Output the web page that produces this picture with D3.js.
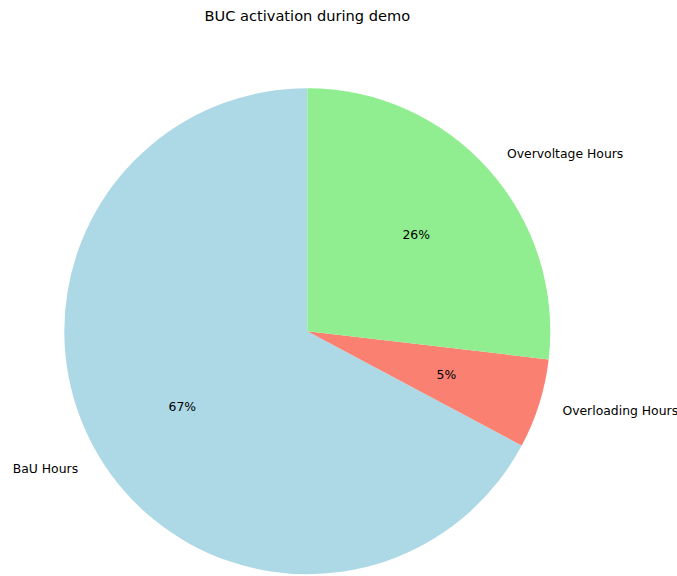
<!DOCTYPE html>
<html>
<head>
<meta charset="utf-8">
<script src="https://cdn.jsdelivr.net/npm/d3@7"></script>
<style>
  body { margin: 0; background: #fff; }
  svg { display: block; font-family: "DejaVu Sans", sans-serif; }
</style>
</head>
<body>
<div id="chart"></div>
<script>
const labels = ["BaU Hours", "Overloading Hours", "Overvoltage Hours"];
const hours = [67.2, 5.95, 26.85];
const colors = ["#add8e6", "#fa8072", "#90ee90"];

const width = 677;
const height = 576;
const cx = 307.3;
const cy = 331.2;
const radius = 243;

const svg = d3
  .select("#chart")
  .append("svg")
  .attr("width", width)
  .attr("height", height);

// matplotlib style: start at top, go counterclockwise
const pie = d3
  .pie()
  .sort(null)
  .value((d) => d)
  .startAngle(0)
  .endAngle(-2 * Math.PI);

const arcs = pie(hours);
const total = d3.sum(hours);

const arc = d3.arc().innerRadius(0).outerRadius(radius);

const g = svg.append("g").attr("transform", `translate(${cx},${cy})`);

g.selectAll("path")
  .data(arcs)
  .join("path")
  .attr("d", arc)
  .attr("fill", (d, i) => colors[i]);

function pos(d, k) {
  const a = (d.startAngle + d.endAngle) / 2;
  return [Math.sin(a) * radius * k, -Math.cos(a) * radius * k];
}

// percentages (truncated, like the original)
g.selectAll("text.pct")
  .data(arcs)
  .join("text")
  .attr("class", "pct")
  .attr("x", (d) => pos(d, 0.6)[0])
  .attr("y", (d) => pos(d, 0.6)[1])
  .attr("text-anchor", "middle")
  .attr("dominant-baseline", "central")
  .attr("font-size", 12.4)
  .text((d) => Math.floor((d.value / total) * 100) + "%");

// category labels
g.selectAll("text.lbl")
  .data(arcs)
  .join("text")
  .attr("class", "lbl")
  .attr("x", (d) => pos(d, 1.1)[0])
  .attr("y", (d) => pos(d, 1.1)[1])
  .attr("text-anchor", (d) => (pos(d, 1)[0] < 0 ? "end" : "start"))
  .attr("dominant-baseline", "central")
  .attr("font-size", 12.4)
  .text((d, i) => labels[i]);

svg.append("text")
  .attr("x", cx)
  .attr("y", 20.5)
  .attr("text-anchor", "middle")
  .attr("font-size", 14.6)
  .text("BUC activation during demo");
</script>
</body>
</html>
